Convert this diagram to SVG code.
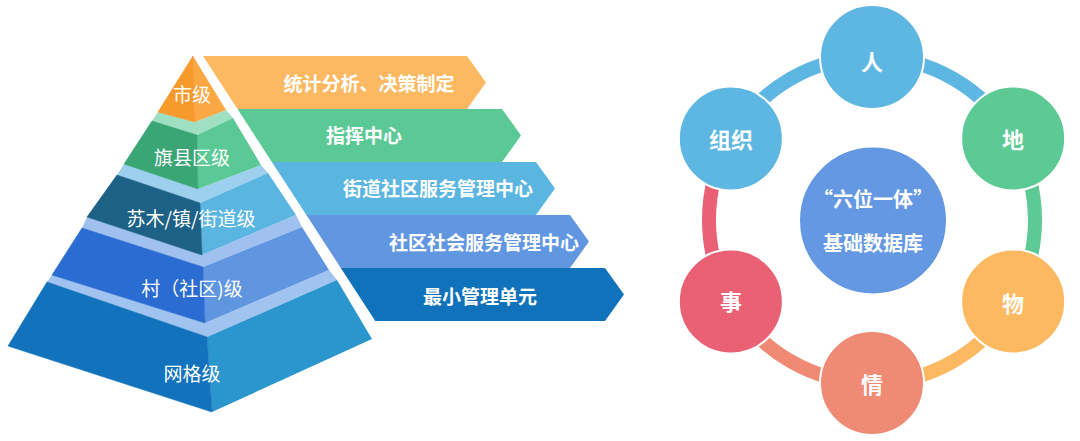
<svg xmlns="http://www.w3.org/2000/svg" width="1080" height="441" viewBox="0 0 1080 441">
<style>
text{font-family:"Noto Sans CJK SC","Noto Sans",sans-serif;fill:#fff;text-anchor:middle;dominant-baseline:central}
.pl{font-size:19px}
.bl{font-size:19px;font-weight:bold}
.cl{font-size:22px;font-weight:bold}
.ml{font-size:20px;font-weight:bold}
.node circle{stroke:#fff;stroke-width:2}
.arc{fill:none;stroke-width:14}
</style>
<rect width="1080" height="441" fill="#fff"/>

<!-- Pyramid -->
<g id="level5">
<polygon points="47,282 52,275 205,323 329,270 337,280 207,337" fill="#A0C3EF"/>
<polygon points="207,337 337,280 372,339 212,412" fill="#2A96CD"/>
<polygon points="47,282 207,337 212,412 8,346" fill="#1272BC" stroke="#1272BC" stroke-width="0.6"/>
<text class="pl" x="192" y="372">网格级</text>
</g>
<g id="level4">
<polygon points="82,228 87,217 202,255 296,215 302,227 203,267" fill="#A0C1EF"/>
<polygon points="203,267 302,227 329,270 205,323" fill="#6096E0"/>
<polygon points="82,228 203,267 205,323 52,275" fill="#2A6CD1" stroke="#2A6CD1" stroke-width="0.6"/>
<text class="pl" x="192" y="287">村（社区)级</text>
</g>
<g id="level3">
<polygon points="117,175 124,164 198,189 261,165 268,173 200,203" fill="#9CD0EE"/>
<polygon points="200,203 268,173 296,215 202,255" fill="#5AB6E1"/>
<polygon points="117,175 200,203 202,255 87,217" fill="#1D6286" stroke="#1D6286" stroke-width="0.6"/>
<text class="pl" x="191" y="217">苏木/镇/街道级</text>
</g>
<g id="level2">
<polygon points="152,121 158,112 195,122 226,110 233,118 197,135" fill="#9FE0C3"/>
<polygon points="197,135 233,118 261,165 198,189" fill="#5BC995"/>
<polygon points="152,121 197,135 198,189 124,164" fill="#3AA675" stroke="#3AA675" stroke-width="0.6"/>
<text class="pl" x="192" y="156">旗县区级</text>
</g>
<g id="level1">
<polygon points="193,56 195,122 226,110" fill="#FBA744"/>
<polygon points="193,56 158,112 195,122" fill="#F7992B" stroke="#F7992B" stroke-width="0.6"/>
<text class="pl" x="192" y="93">市级</text>
</g>

<!-- Banners -->
<g id="banner1">
<polygon points="203,56 467,56 486,82.5 467,109 237.5,109" fill="#FDB862"/>
<text class="bl" x="369" y="82">统计分析、决策制定</text>
</g>
<g id="banner2">
<polygon points="237.5,109 502,109 521,135.5 502,162 271.9,162" fill="#5BC995"/>
<text class="bl" x="364" y="134">指挥中心</text>
</g>
<g id="banner3">
<polygon points="271.9,162 536,162 555,188.5 536,215 306.4,215" fill="#5AB5E1"/>
<text class="bl" x="438" y="187">街道社区服务管理中心</text>
</g>
<g id="banner4">
<polygon points="306.4,215 570,215 589,241.5 570,268 340.8,268" fill="#6196E1"/>
<text class="bl" x="484" y="241">社区社会服务管理中心</text>
</g>
<g id="banner5">
<polygon points="340.8,268 605,268 624,294.5 605,321 375.3,321" fill="#1172BC"/>
<text class="bl" x="480" y="295">最小管理单元</text>
</g>

<!-- Ring connectors -->
<g id="connectors">
<path class="arc" stroke="#5DB7E2" d="M872,57 A163,163 0 0 1 1013.16,138.5"/>
<path class="arc" stroke="#5DCA96" d="M1013.16,138.5 A163,163 0 0 1 1013.16,301.5"/>
<path class="arc" stroke="#FDB962" d="M1013.16,301.5 A163,163 0 0 1 872,383"/>
<path class="arc" stroke="#EF8A74" d="M872,383 A163,163 0 0 1 730.84,301.5"/>
<path class="arc" stroke="#EA6176" d="M730.84,301.5 A163,163 0 0 1 730.84,138.5"/>
<path class="arc" stroke="#5DB7E2" d="M730.84,138.5 A163,163 0 0 1 872,57"/>
</g>

<g id="node-ren" class="node">
<circle cx="872" cy="57" r="52" fill="#5DB7E2"/>
<text class="cl" x="872" y="60">人</text>
</g>
<g id="node-di" class="node">
<circle cx="1013.16" cy="138.5" r="52" fill="#5DCA96"/>
<text class="cl" x="1013" y="138">地</text>
</g>
<g id="node-wu" class="node">
<circle cx="1013.16" cy="301.5" r="52" fill="#FDB962"/>
<text class="cl" x="1013" y="302">物</text>
</g>
<g id="node-qing" class="node">
<circle cx="872" cy="383" r="52" fill="#EF8A74"/>
<text class="cl" x="872" y="383">情</text>
</g>
<g id="node-shi" class="node">
<circle cx="730.84" cy="301.5" r="52" fill="#EA6176"/>
<text class="cl" x="731" y="300">事</text>
</g>
<g id="node-zuzhi" class="node">
<circle cx="730.84" cy="138.5" r="52" fill="#5DB7E2"/>
<text class="cl" x="731" y="138">组织</text>
</g>
<g id="node-center" class="node">
<circle cx="873" cy="220.5" r="74" fill="#6498E2" stroke-width="1.5"/>
<text class="ml" x="873" y="198">“六位一体”</text>
<text class="ml" x="873" y="242">基础数据库</text>
</g>
</svg>
